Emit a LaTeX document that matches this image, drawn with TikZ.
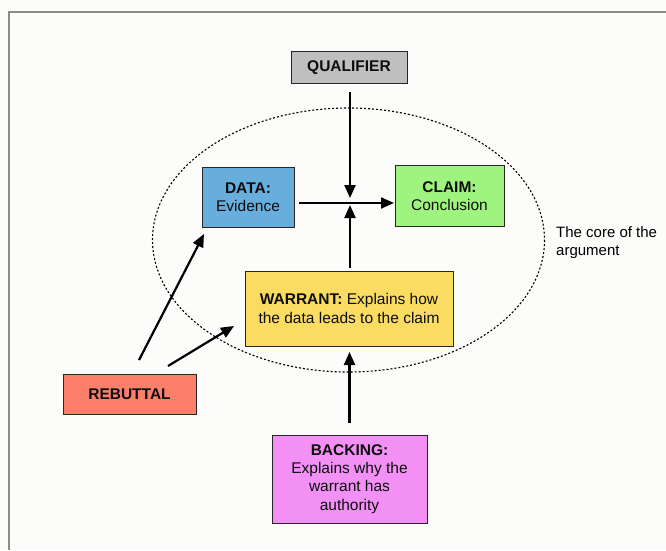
\documentclass[tikz,border=0pt]{standalone}
\usepackage{fontspec}
\setmainfont{Liberation Sans}
\usetikzlibrary{arrows.meta}
\definecolor{qualgray}{HTML}{BFBFBF}
\definecolor{datablue}{HTML}{67AEDD}
\definecolor{claimgreen}{HTML}{9EF47F}
\definecolor{warrantyellow}{HTML}{FBDC62}
\definecolor{rebuttalred}{HTML}{FC7F69}
\definecolor{backingpink}{HTML}{F290F5}
\definecolor{framegray}{HTML}{8C8C84}
\definecolor{paper}{HTML}{FCFCFA}
\begin{document}
\begin{tikzpicture}[x=1pt,y=-1pt,
  box/.style={draw=black!85,line width=1pt,align=center,inner sep=0pt,
    text=black!95,font=\fontsize{15.5}{18.3}\selectfont},
  arr/.style={line width=2.2pt,-{Triangle[length=13pt,width=11pt]}},
  plaintext/.style={align=left,inner sep=0pt,font=\fontsize{15}{18.3}\selectfont}]
\fill[paper] (0,0) rectangle (666,550);
\useasboundingbox (0,0) rectangle (666,550);
\draw[framegray,line width=1.8pt] (666,12) -- (9,12) -- (9,550);
% core ellipse
\draw[line width=1.1pt,dash pattern=on 2pt off 2pt] (348.5,240) ellipse [x radius=196, y radius=132];
% nodes
\node[box,fill=qualgray,minimum width=116pt,minimum height=32pt] (qual) at (349,67.5) {\textbf{QUALIFIER}};
\node[box,fill=datablue,minimum width=92pt,minimum height=60pt] (data) at (248,197) {\textbf{DATA:}\\Evidence};
\node[box,fill=claimgreen,minimum width=109pt,minimum height=61pt] (claim) at (449.5,196) {\textbf{CLAIM:}\\Conclusion};
\node[box,fill=warrantyellow,minimum width=208pt,minimum height=75pt] (warrant) at (349,308.5) {\textbf{WARRANT:} Explains how\\the data leads to the claim};
\node[box,fill=rebuttalred,minimum width=133pt,minimum height=40pt] (rebuttal) at (129.5,394) {\textbf{REBUTTAL}};
\node[box,fill=backingpink,minimum width=155pt,minimum height=88pt] (backing) at (349.5,479) {\textbf{BACKING:}\\Explains why the\\warrant has\\authority};
\node[plaintext,anchor=north west] (core) at (556,226) {The core of the\\argument};
% connector end points
\coordinate (qs) at (350,92);
\coordinate (qt) at (350,198);
\coordinate (ds) at (299,203);
\coordinate (ct) at (394,203);
\coordinate (ws) at (350,268);
\coordinate (wt) at (350,205);
\coordinate (r1s) at (139,360);
\coordinate (r1t) at (204,234);
\coordinate (r2s) at (168,366);
\coordinate (r2t) at (234,326);
\coordinate (bs) at (349.5,423);
\coordinate (bt) at (349.5,352);
% arrows
\draw[arr] (qs) -- (qt);
\draw[arr] (ds) -- (ct);
\draw[arr] (ws) -- (wt);
\draw[arr] (r1s) -- (r1t);
\draw[arr] (r2s) -- (r2t);
\draw[arr] (bs) -- (bt);
\end{tikzpicture}
\end{document}
